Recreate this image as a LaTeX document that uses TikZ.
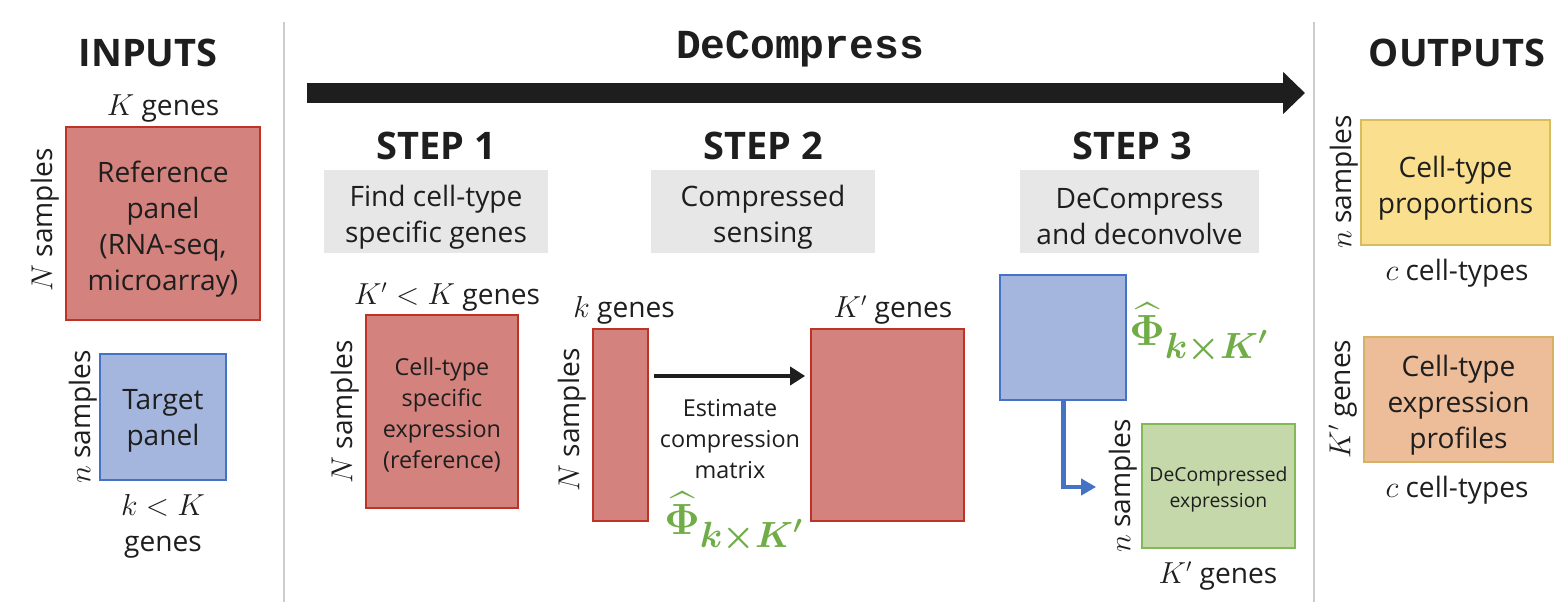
\documentclass[tikz,border=0pt]{standalone}
\usepackage{amsmath}
\usepackage[no-math]{fontspec}
\setmainfont{Open Sans}
\setmonofont{Liberation Mono}
\usetikzlibrary{arrows.meta}

\definecolor{txtblack}{RGB}{30,30,30}
\definecolor{refred}{RGB}{212,130,126}
\definecolor{refredline}{RGB}{190,50,40}
\definecolor{tgtblue}{RGB}{165,182,222}
\definecolor{tgtblueline}{RGB}{68,114,196}
\definecolor{outgreen}{RGB}{196,216,170}
\definecolor{outgreenline}{RGB}{130,185,85}
\definecolor{propyellow}{RGB}{249,223,142}
\definecolor{propyellowline}{RGB}{216,188,94}
\definecolor{proforange}{RGB}{237,189,153}
\definecolor{proforangeline}{RGB}{214,178,100}
\definecolor{phigreen}{RGB}{112,173,71}
\definecolor{stepgray}{RGB}{231,231,231}
\definecolor{sepgray}{RGB}{205,205,205}

\begin{document}
\begin{tikzpicture}[x=0.02cm, y=-0.02cm,
    body/.style={font=\fontsize{16}{20.5}\selectfont, align=center, text=txtblack, inner sep=0pt},
    small/.style={font=\fontsize{13.3}{17.6}\selectfont, align=center, text=txtblack, inner sep=0pt},
    tiny/.style={font=\fontsize{11}{14.8}\selectfont, align=center, text=txtblack, inner sep=0pt},
    header/.style={font=\fontsize{21.6}{26}\selectfont\bfseries, text=txtblack, inner sep=0pt},
    phi/.style={font=\fontsize{27.5}{32}\selectfont, text=phigreen, inner sep=0pt},
    stepbox/.style={fill=stepgray, inner sep=0pt, minimum width=4.48cm, minimum height=1.66cm},
    mat/.style={line width=1pt, inner sep=0pt},
    redmat/.style={mat, fill=refred, draw=refredline},
    bluemat/.style={mat, fill=tgtblue, draw=tgtblueline},
]

    \useasboundingbox (0,0) rectangle (1568,614);

    % Separators between inputs, method and outputs
    \coordinate (sepLtop) at (284,22);
    \coordinate (sepLbot) at (284,602);
    \coordinate (sepRtop) at (1314,22);
    \coordinate (sepRbot) at (1314,602);
    \draw[sepgray, line width=0.8pt] (sepLtop) -- (sepLbot);
    \draw[sepgray, line width=0.8pt] (sepRtop) -- (sepRbot);

    % INPUTS
    \node[header] (inputs) at (148,53) {INPUTS};
    \node[body] (refgenes) at (163,109) {$K$ genes};
    \node[redmat, body, minimum width=3.88cm, minimum height=3.86cm] (refpanel) at (163,223.5) {};
    \node[body] at ([yshift=-3pt]refpanel) {Reference\\panel\\(RNA-seq,\\microarray)};
    \node[body, rotate=90] (refsamples) at (45,220) {$N$ samples};

    \node[bluemat, minimum width=2.52cm, minimum height=2.52cm] (target) at (163,417) {};
    \node[body] at ([yshift=-2pt]target) {Target\\panel};
    \node[body, rotate=90] (tgtsamples) at (83,417) {$n$ samples};
    \node[body] (tgtgenes) at (163,526) {$k<K$\\genes};

    % Main pipeline arrow
    \node[font=\fontsize{23.5}{26}\selectfont\ttfamily\bfseries, text=txtblack] (title) at (800,49) {DeCompress};
    \coordinate (flowstart) at (307,93);
    \coordinate (flowend) at (1305,93);
    \draw[txtblack, line width=0.4cm, -{Triangle[length=0.44cm, width=0.82cm]}] (flowstart) -- (flowend);

    % STEP 1
    \node[header] (step1) at (436,146) {STEP 1};
    \node[stepbox] (box1) at (436,211.5) {};
    \node[body] at ([yshift=-3pt]box1) {Find cell-type\\specific genes};
    \node[body] (s1genes) at (447,297) {$K'<K$ genes};
    \node[redmat, minimum width=3.04cm, minimum height=3.86cm] (cellspec) at (442,411.5) {};
    \node[small] at ([yshift=-2pt]cellspec) {Cell-type\\specific\\expression\\(reference)};
    \node[body, rotate=90] (s1samples) at (345,412) {$N$ samples};

    % STEP 2
    \node[header] (step2) at (763,146) {STEP 2};
    \node[stepbox] (box2) at (763,211.5) {};
    \node[body] at ([yshift=-3pt]box2) {Compressed\\sensing};
    \node[body] (kgenes) at (624,310) {$k$ genes};
    \node[redmat, minimum width=1.1cm, minimum height=3.84cm] (ksmall) at (620.5,425) {};
    \node[body, rotate=90] (s2samples) at (572,420) {$N$ samples};
    \node[body] (kpgenes) at (893,310) {$K'$ genes};
    \node[redmat, minimum width=3.06cm, minimum height=3.84cm] (kbig) at (887.5,425) {};
    \draw[txtblack, line width=0.09cm, -{Triangle[length=0.3cm, width=0.36cm]}]
        ([shift={(5,-49)}]ksmall.east) -- ([shift={(-5,-49)}]kbig.west);
    \node[small] (estimate) at (730,439) {Estimate\\compression\\matrix};
    \node[phi] (phi2) at (734,522) {$\widehat{\mathbf{\Phi}}_{\boldsymbol{k\times K'}}$};

    % STEP 3
    \node[header] (step3) at (1132,146) {STEP 3};
    \node[stepbox, minimum width=4.78cm] (box3) at (1139.5,211.5) {};
    \node[body] at ([yshift=-3pt]box3) {DeCompress\\and deconvolve};
    \node[bluemat, minimum width=2.52cm, minimum height=2.5cm] (phiblue) at (1063,337.5) {};
    \node[phi] (phi3) at (1199,333) {$\widehat{\mathbf{\Phi}}_{\boldsymbol{k\times K'}}$};
    \node[mat, fill=outgreen, draw=outgreenline, minimum width=3.06cm, minimum height=2.48cm]
        (decomp) at (1218.5,486) {};
    \node[tiny] at ([yshift=-2pt]decomp) {DeCompressed\\expression};
    \node[body, rotate=90] (s3samples) at (1123,486) {$n$ samples};
    \node[body] (s3genes) at (1218,576) {$K'$ genes};
    \draw[tgtblueline, line width=0.1cm, -{Triangle[length=0.3cm, width=0.32cm]}]
        (phiblue.south) |- ([shift={(-45,1)}]decomp.west);

    % OUTPUTS
    \node[header] (outputs) at (1457,53) {OUTPUTS};
    \node[mat, fill=propyellow, draw=propyellowline, minimum width=3.78cm, minimum height=2.5cm]
        (props) at (1455.5,182.5) {};
    \node[body] at ([yshift=-3pt]props) {Cell-type\\proportions};
    \node[body, rotate=90] (propsamples) at (1344,182) {$n$ samples};
    \node[body] (propcells) at (1457,273) {$c$ cell-types};

    \node[mat, fill=proforange, draw=proforangeline, minimum width=3.78cm, minimum height=2.5cm]
        (profiles) at (1458.5,399.5) {};
    \node[body] at ([yshift=-3pt]profiles) {Cell-type\\expression\\profiles};
    \node[body, rotate=90] (profgenes) at (1343,399) {$K'$ genes};
    \node[body] (profcells) at (1457,490) {$c$ cell-types};

\end{tikzpicture}
\end{document}
